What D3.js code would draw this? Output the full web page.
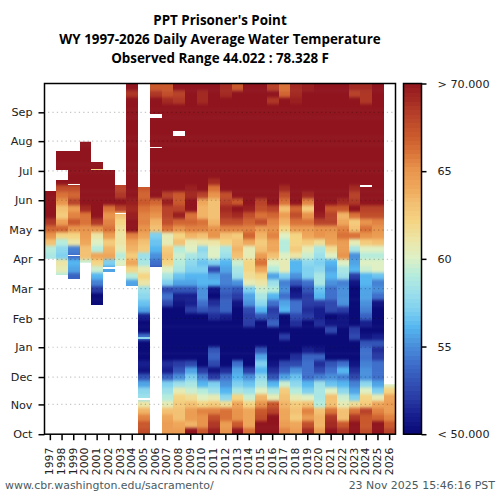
<!DOCTYPE html>
<html><head><meta charset="utf-8">
<style>html,body{margin:0;padding:0;background:#fff}svg{display:block}</style>
<script src="https://cdn.jsdelivr.net/npm/d3@7"></script></head><body>
<svg id="c" width="500" height="500"></svg>
<script>
const _ = null;
const years = d3.range(1997, 2027);
const monthLabels = ["Oct","Nov","Dec","Jan","Feb","Mar","Apr","May","Jun","Jul","Aug","Sep"];
const monthDays = [0,31,59.5,90.5,120.5,151.5,182,212.5,243.5,274,305,335];
const legendTicks = [[70,"> 70.000"],[65,"65"],[60,"60"],[55,"55"],[50,"< 50.000"]];
const colorStops = [50,51,52,53,54,55,56,57,58,59,60,61,62,63,64,65,66,67,68,69,70];
const colorHex = ["#0a0a78","#171f8e","#2a3ca6","#3355b8","#3f70cc","#4a91dc","#55b6f0","#7fd0f0","#9de0ea","#b6ecdc","#dff0c4","#ece5a6","#f4d584","#f3c173","#eea65a","#e8944c","#d97238","#c9582c","#b8432a","#a32a22","#8f141e"];
// weekly temperature (F), week 0 = start of October
const t1997=[_,_,_,_,_,_,_,_,_,_,_,_,_,_,_,_,_,_,_,_,_,_,_,_,_,56,58.5,59,63,65,66.5,68.5,70,71,71,71];
const t1998=[_,_,_,_,_,_,_,_,_,_,_,_,_,_,_,_,_,_,_,_,_,_,_,59,60.5,61,57,57.5,59,62,66.5,64.5,62.5,63,65,66,67.5,70,71,71,71,71];
const t1999=[_,_,_,_,_,_,_,_,_,_,_,_,_,_,_,_,_,_,_,_,_,_,_,53.5,55.5,56,54,54.5,61,62,65,67,65.5,64.5,68,66.5,67.5,70,71,71,71,71];
const t2000=[_,_,_,_,_,_,_,_,_,_,_,_,_,_,_,_,_,_,_,_,_,_,_,_,_,59.5,63,63,64,64.5,65,66,66,69,71,71,70,71,71,71,71,71,71,71];
const t2001=[_,_,_,_,_,_,_,_,_,_,_,_,_,_,_,_,_,_,_,50,50,52,54.5,56,59.5,62,64,59,60,61,65,68.5,70.5,71,71,71,71,71,71,71,71];
const t2002=[_,_,_,_,_,_,_,_,_,_,_,_,_,_,_,_,_,_,_,_,_,_,_,54,55.5,57,64,63.5,62.5,64.5,66,65.5,65,66,71,71,71,71,71,71];
const t2003=[_,_,_,_,_,_,_,_,_,_,_,_,_,_,_,_,_,_,_,_,_,_,_,_,60.5,60,59,60.5,61,61,61.5,62,63,68,71,68.5,68];
const t2004=[_,_,_,_,_,_,_,_,_,_,_,_,_,_,_,_,_,_,_,_,_,_,55.5,59,62,64,62.5,63.5,64,65.5,70,71,69.5,69,69.5,70.5,71,71,71,71,71,71,71,71,71,71,71,71,71,70,68.5,70];
const t2005=[67.5,67,65.5,63.5,61,58,57.5,55.5,53,50.5,51,50,50,50,54,50,50,51,55.5,56.5,57.5,58,61,62,60.5,58.5,58,62.5,63,64,65,65.5,65.5,66,67,66.5,67];
const t2006=[_,_,_,_,_,_,_,_,_,_,_,_,_,_,_,_,_,_,_,_,_,_,_,_,53,54,55,56,56.5,57,63,63.5,65,65.5,66.5,70,71,71,71,71,71,71,71,71,71,71,71,71,71,70,68.5,67];
const t2007=[64.5,64.5,64,63,60.5,59,58,57,53.5,51,51.5,50,50,50,50,50,50,50,50,52.5,54,52.5,57,58.5,60,62,63,62.5,60.5,60.5,66,67.5,68,68,69.5,68,70,71,71,71,71,71,71,71,71,71,71,71,71,69,67.5,67];
const t2008=[64.5,64,63,63,62.5,62,60.5,58,55,53,52,50,50,50,50,50,50,50,50,50.5,51,53,55.5,56.5,58.5,59,59.5,59,63,62,65,66.5,69.5,68,67,67,70,71,71,71,71,71,71,71,71,71,71,71,71,68.5,68,70];
const t2009=[70,63.5,64.5,64.5,63,61.5,59.5,58.5,57,55.5,52.5,50,50,50,50,50,50,50,52,51,51,53,55.5,56,57,57.5,58.5,60,60.5,63.5,65.5,66.5,66,70.5,71,69,69.5,70,71,71,71,71,71,71,71,71,71,71,71,71,71,71];
const t2010=[67,65,65,65.5,62,60,59,56,54.5,52,50,50,50,50,50,50,50,50,53,54,55,55,56,56,57,56.5,58,57.5,61,63,65.5,66,63.5,63.5,64,68,70,71,71,71,71,71,71,71,71,71,71,71,71,69,69,70];
const t2011=[69.5,68.5,67.5,65.5,62.5,60.5,58,57,52,50.5,52.5,53.5,53,50,50,50,50,51.5,52.5,51.5,50,50.5,56,55.5,52.5,57,60,60,61,65,65,63.5,63,63,63,65,66,69,71,71,71,71,71,71,71,71,71,71,71,71,71,71];
const t2012=[65,64.5,66,66,61.5,57.5,56,55,54,51.5,50,50,50,50,50,50,50,51,53.5,53.5,53,53.5,54.5,54.5,55.5,56,58,58.5,62,63,65.5,67.5,68.5,69,68,67.5,70,71,71,71,71,71,71,71,71,71,71,71,71,71,69,69];
const t2013=[70,67,65,65,64,62,58.5,57,56,55.5,54,50,50,50,50,50,50,50,50,50.5,52,53,55,58,58.5,59.5,63,63.5,63,62.5,65.5,67.5,69,70.5,67,70,71,71,71,71,71,71,71,71,71,71,71,71,71,71,70,67];
const t2014=[66,64,64,64,62,59.5,58,56.5,55,52,50,50,50,50,50,50,52,52,52.5,55,55.5,57,60.5,61.5,62,62,60.5,60.5,64,66.5,65.5,66.5,67.5,69.5,71,71,71,71,71,71,71,71,71,71,71,71,71,71,71,71,71,71];
const t2015=[70.5,70,67.5,67,65,63.5,60,58.5,57.5,56,57,55.5,53,50,50,50,50,53,56,57.5,58.5,59.5,61,62,64,66,64.5,63,62.5,63.5,64.5,67.5,66,67.5,68,70,71,71,71,71,71,71,71,71,71,71,71,71,71,71,71,71];
const t2016=[70,71,70,68,67,60.5,58.5,56,53,51.5,50.5,50,50,50,50,50,53.5,52.5,52,54,56,59,58,55.5,59,60,63,64,64,65.5,65,65.5,66.5,68,71,71,71,71,71,71,71,71,71,71,71,71,71,71,71,68.5,70.5,68];
const t2017=[65.5,64.5,64,64,63.5,63,62.5,59.5,55.5,53.5,52.5,50,50,50,52,50,50,50,56,55.5,54,55,54.5,57,60.5,60.5,60,59,59,60,62,63.5,64.5,63,66,67.5,69,71,71,71,71,71,71,71,71,71,71,71,71,71,66.5,66];
const t2018=[64.5,64,62.5,63,62.5,60.5,59,57.5,56.5,55,52.5,51.5,50,50,50,50,51.5,52.5,54,54,51,50.5,53,55,56,56,61,62.5,62,62,64.5,66,67.5,66.5,71,71,71,71,71,71,71,71,71,71,71,71,71,71,71,69.5,69,69];
const t2019=[69,67.5,64.5,65.5,63,60,57,56,54,54,54,53.5,51,50,50,50,50,52,51.5,52,52,53,54,57,57,57.5,59.5,60.5,62.5,64,64.5,66,65,62.5,65.5,69,70,71,71,71,71,71,71,71,71,71,71,71,71,71,70,69.5];
const t2020=[64.5,63.5,63.5,63,59,58.5,58.5,58,54.5,52.5,51.5,53.5,50.5,50,50,50,51.5,51,51,52,56,56.5,58.5,58.5,57.5,57,58,58.5,61.5,65,65,68,69.5,70,71,71,71,71,71,71,71,71,71,71,71,71,71,71,71,71,71,71];
const t2021=[70.5,69,68.5,66,63,63,60,56.5,55,54,53,50,50,50,50,52.5,50.5,50,52.5,52.5,54,54,55,56,55.5,56,60,61.5,64,64.5,65,68,68,67,71,71,71,71,71,71,71,71,71,71,71,71,71,71,71,71,71,70];
const t2022=[68.5,67,63,63,60.5,59.5,57.5,56,54.5,56,54,50,50,50,50,50,50.5,50.5,52,55,55,55,54.5,58,58.5,60,65,64.5,64.5,66,65.5,64,63.5,67,69,70,71,71,71,71,71,71,71,71,71,71,71,71,71,71,71,71];
const t2023=[70.5,70,68.5,66,61.5,57,55.5,54.5,52.5,51.5,50.5,50,50,50,52.5,52,50,50,50,50,50,50,50.5,52,56,55.5,55,58.5,60.5,66,63,62.5,66,71,68.5,68,69,71,71,71,71,71,71,71,71,71,71,71,71,71,68,69];
const t2024=[67.5,67,67,68,62.5,62,60,57.5,55,55,54.5,54,54,53,50.5,50,51,53.5,54.5,55,55.5,55.5,56,56,59.5,60,59,60,62.5,65,66,65,67.5,68,70.5,71,71,71,71,71,71,71,71,71,71,71,71,71,71,68.5,68.5,69];
const t2025=[70.5,70.5,66.5,65.5,64,60.5,57,55.5,54,54,54,52,51.5,53,51,50,50,50,50,50.5,54,55,54.5,56.5,60,60,59,60,63,64.5,65,65.5,67.5,68,70,71,71,71,71,71,71,71,71,71,71,71,71,71,71,71,71,71];
const t2026=[68,67,65.5,64.5,64.5,64,62,60];
const temps=[t1997,t1998,t1999,t2000,t2001,t2002,t2003,t2004,t2005,t2006,t2007,t2008,t2009,t2010,t2011,t2012,t2013,t2014,t2015,t2016,t2017,t2018,t2019,t2020,t2021,t2022,t2023,t2024,t2025,t2026];
const firstDay=[182.6,165.6,161.5,178.4,134.4,168.8,175,154.2,0,174,0,0,0,0,0,0,0,0,0,0,0,0,0,0,0,0,0,0,0,0];
const lastDay=[253,294.8,294.8,304.5,283.3,275,259.4,365,257.3,365,365,365,365,365,365,365,365,365,365,365,365,365,365,365,365,365,365,365,365,52];
const missingDays=[[1998,264.6,10.4],[1999,259.4,1],[1999,185,1],[2002,172,1.8],[2003,228.9,1.2],[2005,35.4,2.4],[2006,298.1,1],[2006,329.2,4.2],[2008,310.4,5.2],[2024,257.6,1.8],[2026,45.5,1]];
const briefDays=[[2001,275,1.5,62],[2005,99.5,1.2,57.5]];
const titleLines=["PPT Prisoner's Point","WY 1997-2026 Daily Average Water Temperature","Observed Range 44.022 : 78.328 F"];

const W=365/52;
const svg=d3.select("#c");
const defs=svg.append("defs");
defs.append("filter").attr("id","soft").attr("filterUnits","userSpaceOnUse")
  .attr("x",0).attr("y",0).attr("width",500).attr("height",500)
  .attr("color-interpolation-filters","sRGB")
  .append("feGaussianBlur").attr("stdDeviation","0 1.8");
const x=d3.scaleBand().domain(years).range([44.5,395.5]);
const y=d3.scaleLinear().domain([0,365]).range([434.2,83.5]);
const color=d3.scaleLinear().domain(colorStops).range(colorHex).interpolate(d3.interpolateRgb).clamp(true);
const cb=d3.scaleLinear().domain([50,70]).range([434.2,83.5]);
const FONT="'DejaVu Sans',sans-serif", TXT="#222";
const colL=yr=>Math.round(x(yr)+0.01);
const colW=yr=>Math.round(x(yr)+x.bandwidth()+0.01)-colL(yr);

// heat cells: one softened, clipped group for each water year
const heat=svg.append("g");
temps.forEach((arr,i)=>{
  const first=firstDay[i], last=lastDay[i], yr=years[i];
  const cells=[];
  arr.forEach((v,k)=>{
    if(v===null) return;
    const a=Math.max(k*W,first), b=Math.min((k+1)*W,last);
    if(b>a) cells.push({a,b,v});
  });
  const id="clip"+yr;
  defs.append("clipPath").attr("id",id).append("rect")
    .attr("x",colL(yr)).attr("width",colW(yr))
    .attr("y",y(last)).attr("height",y(first)-y(last));
  const col=heat.append("g").attr("clip-path",`url(#${id})`).append("g").attr("filter","url(#soft)");
  col.selectAll("rect").data(cells).join("rect")
    .attr("x",colL(yr)).attr("width",colW(yr))
    .attr("y",(d,j)=>y(d.b)-(j===cells.length-1?10:0))
    .attr("height",(d,j)=>y(d.a)-y(d.b)+0.4+(j===cells.length-1?10:0)+(j===0?10:0))
    .attr("fill",d=>color(d.v));
});
svg.append("g").attr("shape-rendering","crispEdges").selectAll("rect").data(briefDays).join("rect")
  .attr("x",d=>colL(d[0])).attr("width",d=>colW(d[0]))
  .attr("y",d=>y(d[1]+d[2])).attr("height",d=>y(d[1])-y(d[1]+d[2]))
  .attr("fill",d=>color(d[3]));
svg.append("g").attr("shape-rendering","crispEdges").selectAll("rect").data(missingDays).join("rect")
  .attr("x",d=>colL(d[0])).attr("width",d=>colW(d[0]))
  .attr("y",d=>y(d[1]+d[2])).attr("height",d=>y(d[1])-y(d[1]+d[2]))
  .attr("fill","#fff");

// dotted month grid
svg.append("g").selectAll("line").data(monthDays.slice(1)).join("line")
  .attr("x1",48).attr("x2",394).attr("y1",d=>y(d)).attr("y2",d=>y(d))
  .attr("stroke","#000").attr("stroke-opacity",0.22).attr("stroke-width",1.2).attr("stroke-dasharray","1.3 3.1");

// frame
svg.append("rect").attr("x",44.5).attr("y",83.5).attr("width",351).attr("height",350.7)
  .attr("fill","none").attr("stroke","#000").attr("stroke-width",1.5);

// left axis
const gy=svg.append("g").attr("transform","translate(44.5,0)")
  .call(d3.axisLeft(y).tickValues(monthDays).tickFormat((d,i)=>monthLabels[i]).tickSize(6).tickPadding(6));
gy.select(".domain").remove();
gy.selectAll("line").attr("stroke","#000").attr("stroke-width",1.5);
gy.selectAll("text").attr("font-family",FONT).attr("font-size",11.2).attr("fill",TXT);

// bottom axis
const gx=svg.append("g").attr("transform","translate(0,434.2)")
  .call(d3.axisBottom(x).tickSize(6).tickSizeOuter(0));
gx.select(".domain").remove();
gx.selectAll("line").attr("stroke","#000").attr("stroke-width",1.5);
gx.selectAll("text").attr("font-family",FONT).attr("font-size",10.8).attr("fill",TXT)
  .attr("text-anchor","end").attr("dominant-baseline","middle")
  .attr("transform","translate(0,13.5) rotate(-90)").attr("x",0).attr("y",0).attr("dy",null);

// colorbar
const barSteps=d3.range(50,70,0.25);
svg.append("g").attr("shape-rendering","crispEdges").selectAll("rect").data(barSteps).join("rect")
  .attr("x",403.5).attr("width",18).attr("y",d=>cb(d+0.25)).attr("height",d=>cb(d)-cb(d+0.25)+0.5)
  .attr("fill",d=>color(d));
svg.append("rect").attr("x",403.5).attr("y",83.5).attr("width",18).attr("height",350.7)
  .attr("fill","none").attr("stroke","#000").attr("stroke-width",1.5);
const gc=svg.append("g").attr("transform","translate(421.5,0)")
  .call(d3.axisRight(cb).tickValues(legendTicks.map(d=>d[0])).tickFormat((d,i)=>legendTicks[i][1]).tickSize(5).tickPadding(11));
gc.select(".domain").remove();
gc.selectAll("line").attr("stroke","#000").attr("stroke-width",1.5);
gc.selectAll("text").attr("font-family",FONT).attr("font-size",11.2).attr("fill",TXT);

// titles
svg.append("g").selectAll("text").data(titleLines).join("text")
  .attr("x",220).attr("y",(d,i)=>25+i*19).attr("text-anchor","middle")
  .attr("font-family","'Open Sans',sans-serif").attr("font-weight",700).attr("font-size",13.4).attr("fill","#000").text(d=>d);

// footer
svg.append("text").attr("x",5).attr("y",489).attr("font-family",FONT).attr("font-size",10.95).attr("fill","#4a5a60").text("www.cbr.washington.edu/sacramento/");
svg.append("text").attr("x",495).attr("y",489).attr("text-anchor","end").attr("font-family",FONT).attr("font-size",10.95).attr("fill","#4a5a60").text("23 Nov 2025 15:46:16 PST");
</script></body></html>
